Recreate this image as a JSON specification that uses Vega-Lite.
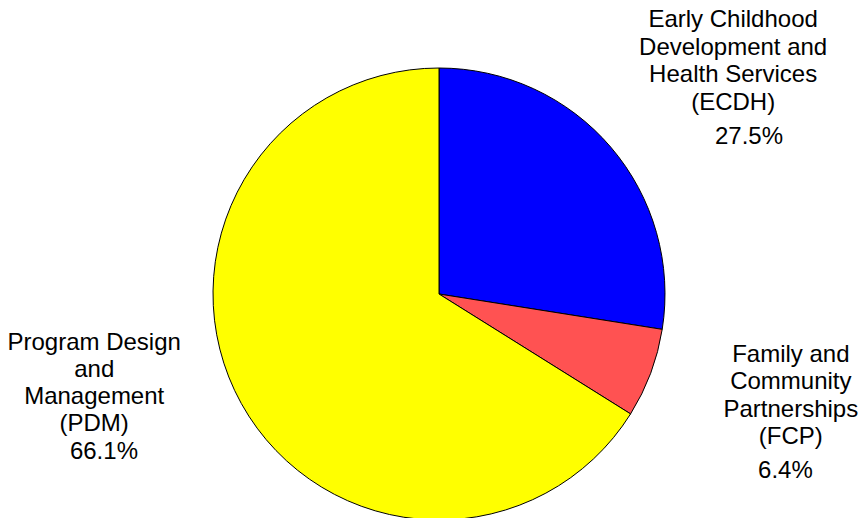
{
  "$schema": "https://vega.github.io/schema/vega-lite/v6.json",
  "autosize": {"type": "none"},
  "width": 844,
  "height": 448,
  "padding": {"left": 17, "top": 70, "right": 0, "bottom": 0},
  "background": "white",
  "config": {"view": {"stroke": null}, "text": {"font": "Liberation Sans", "color": "black"}},
  "data": {"values": [
    {"seq": 1, "abbr": "ECDH", "label": "Early Childhood\nDevelopment and\nHealth Services\n(ECDH)", "share": 0.275},
    {"seq": 2, "abbr": "FCP", "label": "Family and\nCommunity\nPartnerships\n(FCP)", "share": 0.064},
    {"seq": 3, "abbr": "PDM", "label": "Program Design\nand\nManagement\n(PDM)", "share": 0.661}
  ]},
  "encoding": {
    "theta": {"field": "share", "type": "quantitative", "stack": true},
    "order": {"field": "seq", "type": "ordinal"}
  },
  "layer": [
    {
      "mark": {"type": "arc", "outerRadius": 226, "stroke": "black", "strokeWidth": 1},
      "encoding": {
        "color": {"field": "abbr", "type": "nominal", "scale": {"domain": ["ECDH", "FCP", "PDM"], "range": ["#0000ff", "#ff5252", "#ffff00"]}, "legend": null}
      }
    },
    {
      "mark": {"type": "text", "radius": 375, "dx": 9, "dy": -30, "fontSize": 24, "lineHeight": 27.5, "lineBreak": "\n", "baseline": "middle", "align": "center"},
      "encoding": {"text": {"condition": {"test": "datum.abbr === 'ECDH'", "field": "label"}, "value": ""}}
    },
    {
      "mark": {"type": "text", "radius": 338, "dx": 53, "dy": 63, "fontSize": 24, "baseline": "middle", "align": "center"},
      "encoding": {"text": {"condition": {"test": "datum.abbr === 'ECDH'", "field": "share", "type": "quantitative", "format": ".1%"}, "value": ""}}
    },
    {
      "mark": {"type": "text", "radius": 365, "dx": 10, "dy": -67, "fontSize": 24, "lineHeight": 27.5, "lineBreak": "\n", "baseline": "middle", "align": "center"},
      "encoding": {"text": {"condition": {"test": "datum.abbr === 'FCP'", "field": "label"}, "value": ""}}
    },
    {
      "mark": {"type": "text", "radius": 387, "dx": -16, "dy": 41, "fontSize": 24, "baseline": "middle", "align": "center"},
      "encoding": {"text": {"condition": {"test": "datum.abbr === 'FCP'", "field": "share", "type": "quantitative", "format": ".1%"}, "value": ""}}
    },
    {
      "mark": {"type": "text", "radius": 345, "dx": -43, "dy": -118, "fontSize": 24, "lineHeight": 27, "lineBreak": "\n", "baseline": "middle", "align": "center"},
      "encoding": {"text": {"condition": {"test": "datum.abbr === 'PDM'", "field": "label"}, "value": ""}}
    },
    {
      "mark": {"type": "text", "radius": 367, "dx": -14, "dy": -20, "fontSize": 24, "baseline": "middle", "align": "center"},
      "encoding": {"text": {"condition": {"test": "datum.abbr === 'PDM'", "field": "share", "type": "quantitative", "format": ".1%"}, "value": ""}}
    }
  ]
}
